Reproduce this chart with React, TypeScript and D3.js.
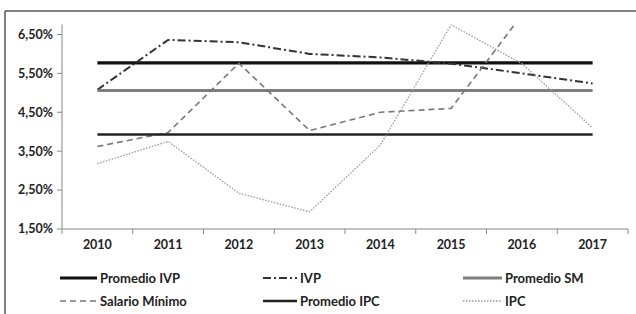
import * as d3 from 'd3'

const years = ['2010', '2011', '2012', '2013', '2014', '2015', '2016', '2017']
const ivp = [5.08, 6.36, 6.3, 6.0, 5.91, 5.75, 5.5, 5.24]
const salarioMinimo = [3.62, 3.98, 5.76, 4.03, 4.5, 4.6, 7.0, 7.0]
const ipc = [3.18, 3.75, 2.42, 1.94, 3.66, 6.75, 5.75, 4.1]
const promedioIVP = 5.77
const promedioSM = 5.06
const promedioIPC = 3.93
const yTicks = [1.5, 2.5, 3.5, 4.5, 5.5, 6.5]

interface Series {
  name: string
  values: number[]
  color: string
  width: number
  dash?: string
}

const series: Series[] = [
  { name: 'Promedio IVP', values: years.map(() => promedioIVP), color: '#111', width: 3.2 },
  { name: 'IVP', values: ivp, color: '#333', width: 2, dash: '8,3,2,3' },
  { name: 'Promedio SM', values: years.map(() => promedioSM), color: '#7f7f7f', width: 3.2 },
  { name: 'Salario Mínimo', values: salarioMinimo, color: '#777', width: 1.6, dash: '6,4' },
  { name: 'Promedio IPC', values: years.map(() => promedioIPC), color: '#222', width: 2.6 },
  { name: 'IPC', values: ipc, color: '#999', width: 1.3, dash: '1.5,1.5' },
]

const font = 'Lato, "Open Sans", sans-serif'

export default function App() {
  const width = 636
  const height = 314
  const plot = { left: 62, right: 628, top: 24.5, bottom: 229 }

  const x = d3.scaleBand<string>().domain(years).range([plot.left, plot.right]).padding(0)
  const cx = (yr: string) => (x(yr) ?? 0) + x.bandwidth() / 2
  const y = d3.scaleLinear().domain([1.5, 6.756]).range([plot.bottom, plot.top])

  const line = d3.line<number>()
    .x((_, i) => cx(years[i]))
    .y(d => y(d))

  const fmt = (v: number) => v.toFixed(2).replace('.', ',') + '%'

  const boundaries = years.map(yr => x(yr) ?? 0).concat([plot.right])

  // legend positions
  const legendCols = [{ sx: 60, tx: 100 }, { sx: 263, tx: 300 }, { sx: 463, tx: 505 }]
  const legendRows = [278, 301]

  return (
    <svg width={width} height={height} style={{ position: 'absolute', left: 0, top: 0, background: '#fff' }}>
      <defs>
        <clipPath id="plotclip">
          <rect x={plot.left} y={plot.top} width={plot.right - plot.left} height={plot.bottom - plot.top} />
        </clipPath>
      </defs>

      {/* outer frame */}
      <line x1={5} y1={11} x2={width} y2={11} stroke="#555" strokeWidth={1.5} />
      <line x1={5} y1={11} x2={5} y2={height} stroke="#555" strokeWidth={1.5} />

      {/* Y axis */}
      <line x1={plot.left} y1={plot.top} x2={plot.left} y2={plot.bottom} stroke="#888" strokeWidth={1} />
      {yTicks.map(t => (
        <g key={t}>
          <line x1={plot.left - 5} x2={plot.left} y1={y(t)} y2={y(t)} stroke="#888" />
          <text x={53} y={y(t)} dy="0.35em" textAnchor="end" fontFamily={font} fontWeight={700}
            fontSize={12.5} fill="#222">{fmt(t)}</text>
        </g>
      ))}

      {/* X axis */}
      <line x1={plot.left} y1={plot.bottom} x2={plot.right} y2={plot.bottom} stroke="#888" strokeWidth={1} />
      {boundaries.map((b, i) => (
        <line key={i} x1={b} x2={b} y1={plot.bottom} y2={plot.bottom + 5} stroke="#888" />
      ))}
      {years.map(yr => (
        <text key={yr} x={cx(yr)} y={plot.bottom + 20} textAnchor="middle" fontFamily={font}
          fontWeight={700} fontSize={12.5} fill="#222">{yr}</text>
      ))}

      {/* series */}
      <g clipPath="url(#plotclip)">
        {series.map(s => (
          <path key={s.name} d={line(s.values) ?? ''} fill="none" stroke={s.color}
            strokeWidth={s.width} strokeDasharray={s.dash} />
        ))}
      </g>

      {/* legend */}
      {series.map((s, i) => {
        const col = legendCols[i % 3]
        const ry = legendRows[Math.floor(i / 3)]
        return (
          <g key={s.name}>
            <line x1={col.sx} x2={col.tx - 3} y1={ry} y2={ry} stroke={s.color}
              strokeWidth={s.width} strokeDasharray={s.dash} />
            <text x={col.tx} y={ry} dy="0.35em" fontFamily={font} fontWeight={700}
              fontSize={13} fill="#222">{s.name}</text>
          </g>
        )
      })}
    </svg>
  )
}
